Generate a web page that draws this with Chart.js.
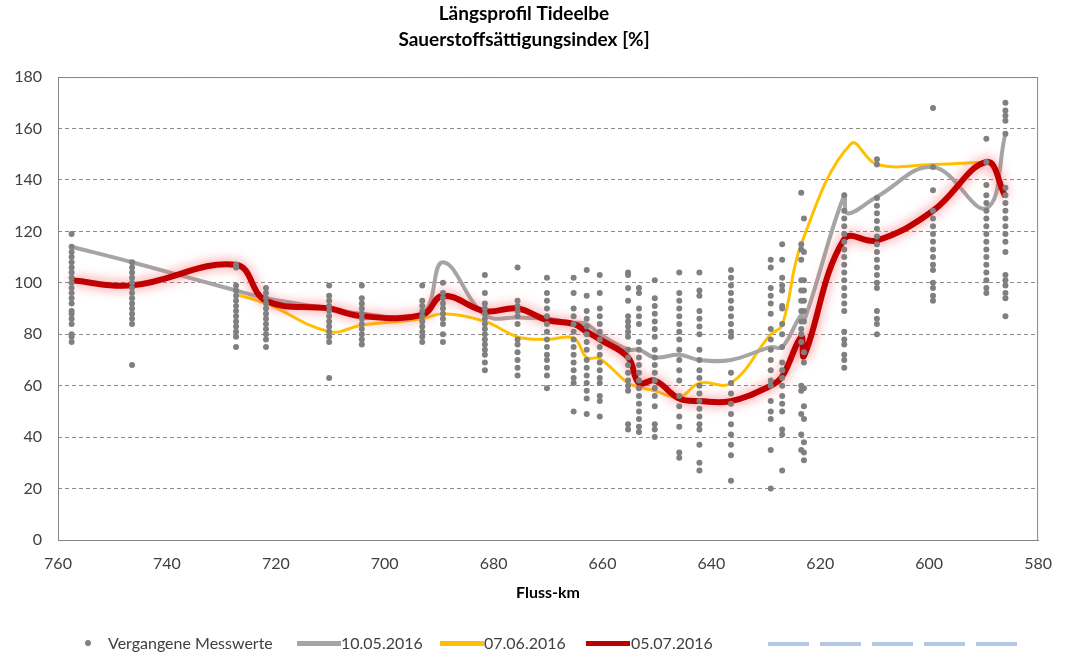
<!DOCTYPE html>
<html lang="de">
<head>
<meta charset="UTF-8">
<title>Längsprofil Tideelbe</title>
<script src="https://cdn.jsdelivr.net/npm/chart.js"></script>
<style>
    body { margin: 0; background: #fff; font-family: Lato, "Liberation Sans", sans-serif; }
    .wrap { position: relative; width: 1066px; height: 656px; }
    canvas { display: block; }
    .legend { position: absolute; left: 0; top: 632px; width: 1066px; height: 22px; font-size: 16px; color: #404040; }
    .legend span { position: absolute; top: 0; line-height: 22px; white-space: nowrap; }
    .legend i { position: absolute; display: block; }
    .dot { width: 6px; height: 6px; border-radius: 3px; background: #808080; top: 8px; }
    .ln { width: 44px; height: 5px; top: 9px; }
    .dash { height: 4px; top: 10px; width: 252px;
        background: repeating-linear-gradient(90deg, #b4c7e7 0 41px, transparent 41px 52px); }
</style>
</head>
<body>
<div class="wrap">
    <canvas id="chart" width="1066" height="656"></canvas>
    <div class="legend">
        <i class="dot" style="left:85px"></i><span style="left:108px">Vergangene Messwerte</span>
        <i class="ln" style="left:297px;background:#a5a5a5"></i><span style="left:341px">10.05.2016</span>
        <i class="ln" style="left:440px;background:#ffc000"></i><span style="left:484px">07.06.2016</span>
        <i class="ln" style="left:586px;background:#c00000"></i><span style="left:631px">05.07.2016</span>
        <i class="dash" style="left:768px"></i>
    </div>
</div>
<script>
// Messstationen (Fluss-km) und vergangene Messwerte je Station
const stationKm = [757.5, 746.4, 727.3, 721.8, 710.2, 704.2, 693.1, 689.3, 681.6, 675.6,
    670.2, 665.3, 662.9, 660.5, 655.3, 653.3, 650.4, 645.9, 642.2, 636.4,
    629.1, 627.0, 623.5, 623.0, 615.6, 609.6, 599.3, 589.5, 586.0];

const messwerte = [
    [119, 114, 112, 110, 108, 106, 104, 102, 100, 98, 96, 94, 92, 89, 88, 86, 84, 80, 79, 77],
    [108, 106, 104, 102, 100, 98, 96, 94, 92, 90, 88, 86, 84, 68],
    [107, 106, 99, 97, 95, 93, 91, 89, 87, 85, 83, 81, 79, 75],
    [98, 96, 94, 92, 90, 88, 86, 84, 82, 80, 78, 75],
    [99, 95, 93, 91, 89, 87, 85, 83, 81, 79, 77, 63],
    [99, 94, 92, 90, 88, 86, 84, 82, 80, 78, 76],
    [99, 93, 91, 89, 87, 85, 83, 81, 79, 77],
    [100, 96, 94, 92, 90, 88, 86, 84, 80, 77],
    [103, 96, 92, 90, 88, 86, 84, 82, 80, 78, 76, 74, 72, 69, 66],
    [106, 93, 91, 89, 87, 84, 78, 76, 73, 70, 67, 64],
    [102, 96, 93, 90, 87, 84, 81, 78, 75, 72, 70, 67, 64, 59],
    [102, 96, 90, 87, 84, 81, 78, 75, 72, 69, 66, 63, 61, 50],
    [105, 95, 89, 86, 83, 80, 77, 74, 70, 67, 64, 61, 58, 55, 49],
    [103, 96, 90, 87, 84, 81, 78, 75, 72, 69, 66, 63, 61, 56, 54, 48],
    [104, 103, 98, 93, 87, 85, 83, 81, 79, 74, 71, 68, 65, 62, 60, 58, 45, 43],
    [98, 96, 90, 87, 84, 77, 74, 71, 68, 65, 62, 59, 56, 53, 50, 47, 44, 42],
    [101, 94, 91, 88, 85, 82, 79, 74, 71, 68, 65, 62, 59, 56, 52, 45, 43, 40],
    [104, 96, 93, 90, 87, 84, 81, 78, 74, 70, 66, 62, 56, 52, 48, 44, 34, 32],
    [104, 97, 95, 89, 86, 83, 80, 74, 70, 66, 63, 60, 57, 54, 51, 48, 45, 43, 37, 30, 27],
    [105, 102, 99, 96, 93, 90, 87, 84, 81, 79, 65, 61, 57, 53, 49, 45, 41, 37, 33, 23],
    [109, 106, 98, 95, 92, 88, 82, 78, 74, 70, 66, 62, 60, 54, 50, 47, 35, 20],
    [115, 109, 102, 99, 97, 91, 90, 84, 80, 75, 69, 66, 63, 60, 56, 53, 50, 43, 41, 27],
    [135, 115, 113, 109, 101, 97, 93, 89, 85, 82, 80, 77, 60, 58, 49, 41, 35],
    [125, 112, 101, 97, 93, 89, 85, 73, 69, 59, 52, 47, 38, 34, 31],
    [134, 128, 125, 122, 119, 116, 113, 110, 107, 104, 101, 98, 95, 92, 89, 81, 78, 76, 72, 70, 67],
    [148, 146, 133, 130, 127, 124, 121, 118, 115, 112, 109, 106, 103, 100, 98, 89, 86, 84, 80],
    [168, 145, 136, 128, 125, 122, 119, 116, 113, 110, 107, 105, 100, 98, 95, 93],
    [156, 147, 138, 134, 131, 128, 125, 122, 119, 116, 113, 110, 107, 104, 101, 98, 96],
    [170, 167, 165, 163, 158, 137, 134, 131, 128, 125, 122, 119, 116, 112, 103, 101, 99, 96, 94, 87]
];

// Profilfahrten
const kmMai = [757.5, 746.4, 727.3, 721.8, 710.2, 704.2, 693.1, 689.3, 681.6, 675.6,
    670.2, 665.3, 662.9, 660.5, 655.3, 653.3, 650.4, 645.9, 642.2, 636.4,
    629.1, 627.0, 623.5, 623.0, 615.6, 615.0, 609.6, 599.3, 589.5, 586.0];
const wertMai = [114, 108, 97, 94, 90, 88, 88, 108, 87.5, 86.5,
    86, 84.5, 84, 80, 74, 74, 71, 72, 70, 70,
    75, 75, 87.5, 85, 134, 127, 133.5, 145, 129, 158];

const kmJuni = [727.3, 721.8, 710.2, 704.2, 693.1, 689.3, 681.6, 675.6, 670.2, 665.3,
    662.9, 660.5, 655.3, 653.3, 650.4, 645.9, 642.2, 636.4, 629.1, 627.0,
    623.5, 614.4, 609.6, 599.3, 589.5];
const wertJuni = [95.5, 92, 81, 83.5, 86, 88, 85, 79, 78, 78.5,
    71, 70.5, 61, 59.5, 58, 55.5, 61, 61, 80, 83.5,
    115, 154, 146, 146, 147];

const kmJuli = stationKm;
const wertJuli = [101, 99, 107, 93, 90, 87, 87.5, 95, 89, 90,
    85.5, 84, 81, 78, 71, 61, 62, 55, 54, 54,
    60, 63.5, 79, 71.5, 117, 116.5, 128, 147, 133.5];

const yTicks = [0, 20, 40, 60, 80, 100, 120, 140, 160, 180];

function punkte(km, werte) {
    return km.map((k, i) => ({ x: k, y: werte[i] }));
}

const streuPunkte = [];
stationKm.forEach((k, i) => {
    messwerte[i].forEach(v => streuPunkte.push({ x: k, y: v }));
});

// Rahmen um die Zeichenfläche + Schein um die rote Linie
const rahmen = {
    id: 'rahmen',
    beforeDatasetDraw(chart, args) {
        if (args.meta.label === '05.07.2016') {
            const ctx = chart.ctx;
            ctx.save();
            ctx.shadowColor = 'rgba(250, 90, 100, 0.8)';
            ctx.shadowBlur = 12;
        }
    },
    afterDatasetDraw(chart, args) {
        if (args.meta.label === '05.07.2016') chart.ctx.restore();
    },
    afterDraw(chart) {
        const { ctx, chartArea: a } = chart;
        ctx.save();
        ctx.strokeStyle = '#868686';
        ctx.lineWidth = 1;
        ctx.strokeRect(a.left + 0.5, a.top + 0.5, a.right - a.left - 1, a.bottom - a.top);
        ctx.restore();
    }
};

const schrift = "Lato, 'Liberation Sans', sans-serif";

new Chart(document.getElementById('chart'), {
    type: 'scatter',
    data: {
        datasets: [
            {
                label: 'Vergangene Messwerte',
                data: streuPunkte,
                pointRadius: 3,
                pointBackgroundColor: '#808080',
                pointBorderWidth: 0,
                order: 0
            },
            {
                label: '05.07.2016',
                data: punkte(kmJuli, wertJuli),
                showLine: true,
                borderColor: '#c00000',
                borderWidth: 6,
                pointRadius: 0,
                tension: 0.4,
                order: 1
            },
            {
                label: '10.05.2016',
                data: punkte(kmMai, wertMai),
                showLine: true,
                borderColor: '#a5a5a5',
                borderWidth: 4,
                pointRadius: 0,
                tension: 0.4,
                order: 2
            },
            {
                label: '07.06.2016',
                data: punkte(kmJuni, wertJuni),
                showLine: true,
                borderColor: '#ffc000',
                borderWidth: 3,
                pointRadius: 0,
                tension: 0.4,
                order: 3
            }
        ]
    },
    options: {
        responsive: false,
        animation: false,
        layout: { padding: { left: 0, right: 18, top: 0, bottom: 41 } },
        plugins: {
            legend: { display: false },
            tooltip: { enabled: false },
            title: {
                display: true,
                text: ['Längsprofil Tideelbe', 'Sauerstoffsättigungsindex [%]'],
                color: '#000',
                font: { family: schrift, size: 19, weight: 'bold', lineHeight: 1.37 },
                padding: { top: 1, bottom: 24 }
            }
        },
        scales: {
            x: {
                type: 'linear',
                reverse: true,
                min: 580,
                max: 760,
                ticks: { stepSize: 20, padding: 14, color: '#404040', font: { family: schrift, size: 16 } },
                grid: { display: false, drawTicks: false },
                border: { color: '#868686' },
                title: {
                    display: true,
                    text: 'Fluss-km',
                    color: '#000',
                    font: { family: schrift, size: 16, weight: 'bold' },
                    padding: { top: 0, bottom: 13 }
                },
                afterFit(scale) { scale.height = 75; }
            },
            y: {
                min: 0,
                max: 180,
                afterBuildTicks(scale) { scale.ticks = yTicks.map(v => ({ value: v })); },
                ticks: { padding: 16, color: '#404040', font: { family: schrift, size: 16 } },
                grid: { color: '#8c8c8c', lineWidth: 1, drawTicks: false },
                border: { display: false, dash: [4, 3] },
                afterFit(scale) { scale.width = 58; }
            }
        }
    },
    plugins: [rahmen]
});
</script>
</body>
</html>
